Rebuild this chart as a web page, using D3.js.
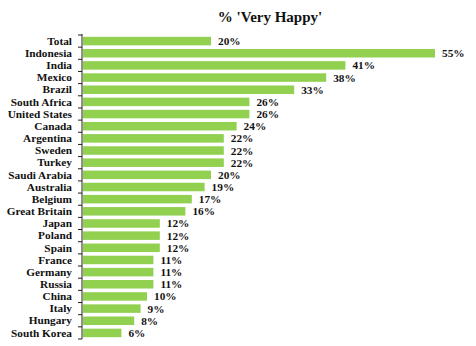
<!DOCTYPE html>
<html><head><meta charset="utf-8">
<script src="https://cdn.jsdelivr.net/npm/d3@7"></script>
<style>body{margin:0;background:#fff}</style>
</head><body><svg id="c" width="476" height="346"></svg>
<script>
const categories = ["Total","Indonesia","India","Mexico","Brazil","South Africa","United States","Canada","Argentina","Sweden","Turkey","Saudi Arabia","Australia","Belgium","Great Britain","Japan","Poland","Spain","France","Germany","Russia","China","Italy","Hungary","South Korea"];
const values = [20,55,41,38,33,26,26,24,22,22,22,20,19,17,16,12,12,12,11,11,11,10,9,8,6];
const title = "% 'Very Happy'";

const svg = d3.select("#c");
const font = "'Liberation Serif', serif";
const x0 = 83;
const x = d3.scaleLinear().domain([0, 55]).range([x0, x0 + 352]);
const y = d3.scaleBand().domain(categories).range([35, 339]).paddingInner(0.3).paddingOuter(0.15);

svg.append("text").attr("x", 270).attr("y", 22).attr("text-anchor", "middle")
  .attr("font-family", font).attr("font-weight", "bold").attr("font-size", 15)
  .attr("fill", "#111").text(title);

svg.selectAll("rect.bar").data(categories).join("rect").attr("class","bar")
  .attr("x", x(0)).attr("y", d => y(d))
  .attr("width", (d,i) => x(values[i]) - x(0)).attr("height", y.bandwidth())
  .attr("fill", "#92D050");

const ax = d3.axisLeft(y).tickSize(0).tickPadding(10);
const g = svg.append("g").attr("transform", `translate(${x0 - 1},0)`).call(ax);
g.select(".domain").attr("stroke", "#222").attr("d", `M0,${y.range()[0]-1}V${y.range()[1]}`);
g.selectAll("text").attr("font-family", font).attr("font-weight", "bold").attr("font-size", 11.3).attr("fill", "#111").attr("dy", "0.33em");
const bounds = d3.range(categories.length + 1).map(i => y.range()[0] + i * (y.range()[1]-y.range()[0]) / categories.length);
g.selectAll("line.tk").data(bounds).join("line").attr("class","tk")
  .attr("x1", -4).attr("x2", 0).attr("y1", d => d).attr("y2", d => d).attr("stroke", "#222");

svg.selectAll("text.val").data(categories).join("text").attr("class","val")
  .attr("x", (d,i) => x(values[i]) + 7).attr("y", d => y(d) + y.bandwidth()/2 + 4)
  .attr("font-family", font).attr("font-weight", "bold").attr("font-size", 11.3).attr("fill", "#111")
  .text((d,i) => values[i] + "%");
</script></body></html>
